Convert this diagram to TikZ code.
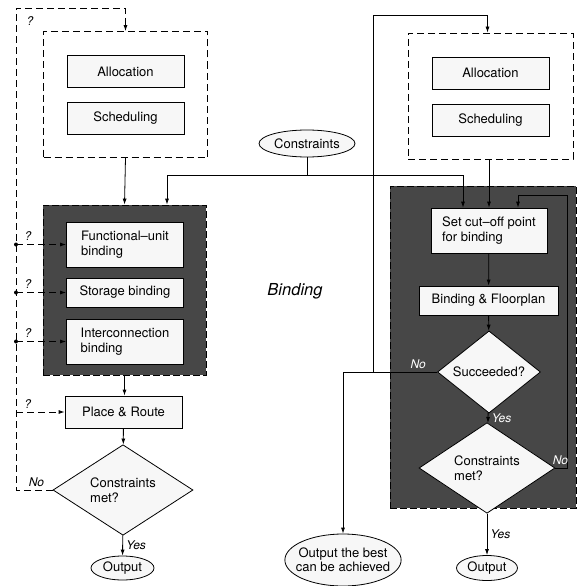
\documentclass[tikz,border=0pt]{standalone}
\usepackage{fontspec}
\setmainfont{TeX Gyre Heros}
\usetikzlibrary{positioning,shapes.geometric,arrows.meta,calc}

\begin{document}
\begin{tikzpicture}[
x=1pt,y=-1pt,
line width=0.8pt,
box/.style={
  draw,
  fill=gray!6,
  minimum width=117pt,
  minimum height=32pt,
  inner sep=2pt,
  align=left,
  font=\fontsize{13}{15}\selectfont
  },
group/.style={
  draw,
  dash pattern=on 7pt off 4pt,
  minimum width=164pt,
  minimum height=126pt
  },
dark/.style={
  draw,
  dash pattern=on 7pt off 3pt,
  fill=black!72
  },
test/.style={
  draw,
  diamond,
  fill=gray!6,
  inner sep=0pt,
  align=left,
  font=\fontsize{13}{15}\selectfont
  },
oval/.style={
  draw,
  ellipse,
  fill=gray!6,
  inner sep=0pt,
  align=center,
  font=\fontsize{13}{14}\selectfont
  },
dashline/.style={
  dash pattern=on 7pt off 4pt
  },
lbl/.style={
  font=\itshape\fontsize{12}{14}\selectfont
  },
>={Latex[length=6pt,width=4pt]}
]
\useasboundingbox (0,0) rectangle (578,586);

\node[group] (grpL) at (125.5,94.5) {};
\node[box] (allocL) at (125.5,71.5) {Allocation};
\node[box] (schedL) at (125.5,118) {Scheduling};
\node[dark, minimum width=163pt, minimum height=170pt] (darkL) at (124.5,290) {};
\node[box, minimum height=45pt] (fubL) at (125,244.5) {Functional--unit\\binding};
\node[box, minimum height=29pt] (stoL) at (125,292.5) {Storage binding};
\node[box, minimum height=45pt] (intL) at (125,341.5) {Interconnection\\binding};
\node[box] (prL) at (123.5,412) {Place \& Route};
\node[test, minimum width=140pt, minimum height=75pt] (metL) at (123,490) {Constraints\\met?};
\node[oval, minimum width=63pt, minimum height=24pt] (outL) at (122.5,568) {Output};

\node[oval, minimum width=96pt, minimum height=27pt] (cons) at (307,143.5) {Constraints};
\coordinate (split) at (307,175);
\node[font=\itshape\fontsize{16.5}{18}\selectfont] (bindLbl) at (295,291) {Binding};

\node[group, minimum width=165pt] (grpR) at (490.5,96) {};
\node[box] (allocR) at (490.5,73) {Allocation};
\node[box] (schedR) at (490.5,120) {Scheduling};
\node[dark, minimum width=186pt, minimum height=322pt] (darkR) at (483,347) {};
\node[box, minimum width=116pt, minimum height=45pt] (cutR) at (489,230.5) {Set cut--off point\\for binding};
\node[box, minimum width=139pt, minimum height=29pt] (bfR) at (488.5,300.5) {Binding \& Floorplan};
\node[test, minimum width=103pt, minimum height=42pt] (sucR) at (489,372) {Succeeded?};
\node[test, minimum width=136pt, minimum height=76pt] (metR) at (487,468) {Constraints\\met?};
\node[oval, minimum width=61pt, minimum height=25pt] (outR) at (487,568) {Output};
\node[oval, inner xsep=-6pt, inner ysep=3pt, minimum height=52pt] (bestR) at (343,560) {Output the best\\can be achieved};

\coordinate (loopTL) at (16,8);
\coordinate (topR) at (373,15);
\coordinate (loopR) at (567,195);

\draw[->] (grpL.south) -- (darkL.north);
\draw (cons.south) -- (split);
\draw[->] (split) -| ([xshift=42.5pt]darkL.north);
\draw[->] (split) -| ([xshift=-26pt]cutR.north);
\draw[->] (darkL.south) -- (darkL.south |- prL.north);
\draw[->] (prL) -- (metL);
\draw[->] (metL) -- node[lbl, right] {Yes} (outL);
\draw[dashline,->] (metL.west) -| node[lbl, above, pos=0.22] {No} (loopTL) -| (grpL.north);
\node[lbl] (qTop) at (30,21) {?};
\foreach \n in {fubL,stoL,intL}
{
  \fill (loopTL |- \n.west) circle (2pt);
  \draw[dashline,->] (loopTL |- \n.west) -- node[lbl, above, pos=0.24] {?} (\n.west);
}
\draw[dashline,->] (loopTL |- prL.west) -- node[lbl, above, pos=0.24] {?} (prL.west);

\draw[->] (grpR.south -| cutR.north) -- (cutR.north);
\draw[->] (cutR) -- (bfR);
\draw[->] (bfR) -- (sucR);
\draw[->] (sucR) -- node[lbl, right, white] {Yes} (metR);
\draw[->] (metR) -- node[lbl, right] {Yes} (outR);
\draw[->] (sucR.west) -| node[lbl, above, pos=0.1, white] {No} (bestR.north);
\draw[->] (sucR.west -| topR) -- (topR) -| ([xshift=-3pt]grpR.north);
\draw[->] (metR.east) -| node[lbl, above, pos=0.22, white] {No} (loopR) -| ([xshift=29pt]cutR.north);
\end{tikzpicture}
\end{document}
